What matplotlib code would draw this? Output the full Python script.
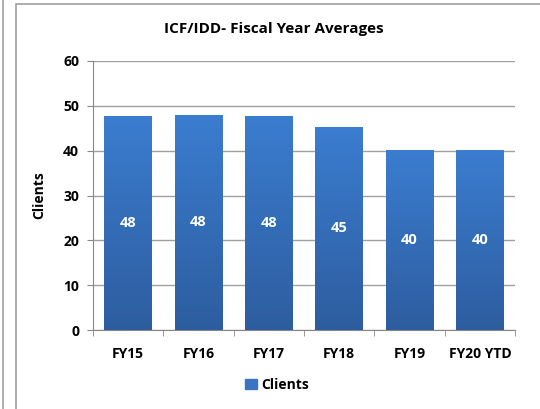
import numpy as np
import matplotlib.pyplot as plt
from matplotlib.patches import Rectangle
from matplotlib.lines import Line2D
from matplotlib.colors import LinearSegmentedColormap

years = ["FY15", "FY16", "FY17", "FY18", "FY19", "FY20 YTD"]
clients = [47.8, 48.0, 47.8, 45.3, 40.2, 40.2]
labels = ["48", "48", "48", "45", "40", "40"]

plt.rcParams['font.family'] = ['Open Sans', 'DejaVu Sans']
plt.rcParams['font.weight'] = 'bold'

fig = plt.figure(figsize=(5.4, 4.09), dpi=100)
ax = fig.add_axes([93/540, 1 - 330/409, (515-93)/540, (330-61)/409])

# outer chart frame and left edge line
fig.add_artist(Rectangle((16/540, -0.1), 1.0, (409-4)/409 + 0.1, transform=fig.transFigure,
                         fill=False, edgecolor='#a0a0a0', linewidth=1.2))
fig.add_artist(Line2D([2.5/540, 2.5/540], [0, 1], transform=fig.transFigure,
                      color='#a0a0a0', linewidth=1.2))

x = np.arange(len(years))
bars = ax.bar(x, clients, width=0.68, color='#3a74c2', zorder=2)

# vertical gradient on each bar
grad = np.linspace(0, 1, 256).reshape(-1, 1)
cmap = LinearSegmentedColormap.from_list('g', ['#2d5d9f', '#3b7dd0'])
for b in bars:
    im = ax.imshow(grad, cmap=cmap, aspect='auto', origin='lower',
                   extent=[b.get_x(), b.get_x() + b.get_width(), 0, b.get_height()], zorder=3)
    im.set_clip_path(b)

for xi, v, lab in zip(x, clients, labels):
    ax.text(xi, v / 2, lab, ha='center', va='center', color='white',
            fontsize=10.5, fontweight='bold', zorder=4)

ax.set_xlim(-0.5, len(years) - 0.5)
ax.set_ylim(0, 60)
ax.set_yticks(range(0, 61, 10))
ax.set_xticks(x)
ax.set_xticklabels(years, fontweight='bold')
ax.set_yticklabels([str(v) for v in range(0, 61, 10)], fontweight='bold')
ax.set_xticks(np.arange(-0.5, len(years)), minor=True)
ax.tick_params(axis='x', which='major', length=0, pad=12, labelsize=10)
ax.tick_params(axis='x', which='minor', length=4, color='#888888')
ax.tick_params(axis='y', length=4, color='#888888', labelsize=10, pad=6)
ax.grid(axis='y', color='#a0a0a0', linewidth=1, zorder=0)
ax.set_axisbelow(True)
for s in ['top', 'right']:
    ax.spines[s].set_visible(False)
for s in ['left', 'bottom']:
    ax.spines[s].set_color('#888888')

ax.set_ylabel("Clients", fontsize=10, fontweight='bold', labelpad=12)
fig.text(274/540, 1 - 29/409, "ICF/IDD- Fiscal Year Averages", ha='center', va='center',
         fontsize=11, fontweight='bold')

fig.legend([Rectangle((0, 0), 1, 1, color='#3a74c2')], ["Clients"], loc='center',
           bbox_to_anchor=(277/540, 1 - 385/409), frameon=False, prop={'size': 10, 'weight': 'bold'},
           handlelength=0.8, handleheight=0.8, handletextpad=0.3)

fig.savefig("out.png", dpi=100)
